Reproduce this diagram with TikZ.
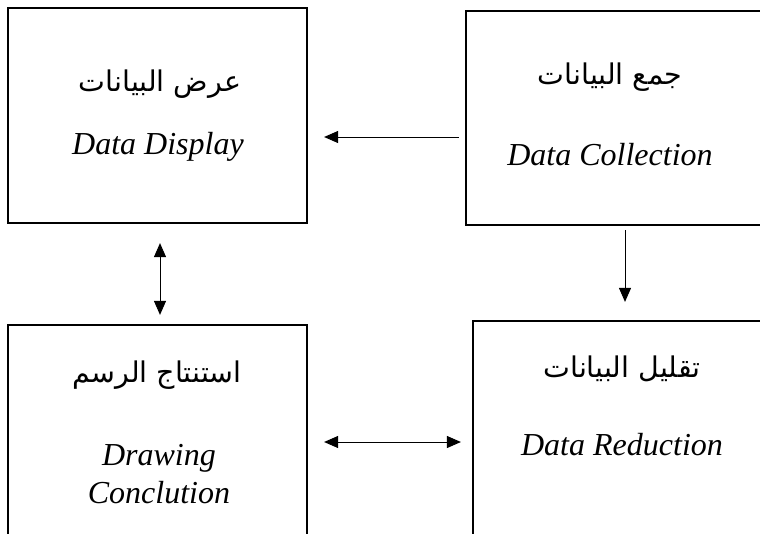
\documentclass[tikz,border=0pt]{standalone}
\usepackage{fontspec}
\setmainfont{Liberation Serif}
\newfontfamily\arabicfont[Script=Arabic]{DejaVu Sans}
\TeXXeTstate=1
\usetikzlibrary{arrows.meta}
\begin{document}
\begin{tikzpicture}[x=1pt,y=-1pt,
  box/.style={draw,line width=2.2pt,minimum width=299pt,inner sep=0pt},
  ar/.style={anchor=base,font=\arabicfont\fontsize{28.5}{32}\selectfont},
  en/.style={anchor=base,font=\itshape\fontsize{32}{36}\selectfont},
  arr/.style={line width=1pt,-{Triangle[length=14pt,width=12pt]}},
  darr/.style={line width=1pt,{Triangle[length=14pt,width=12pt]}-{Triangle[length=14pt,width=12pt]}}]
\useasboundingbox (0,0) rectangle (760,533);
\clip (0,0) rectangle (760,533);
\fill[white] (0,0) rectangle (760,533);
% boxes
\node[box,minimum height=215pt] (tl) at (157.5,115.5) {};
\node[box,minimum height=214pt] (tr) at (615.5,118) {};
\node[box,minimum height=215pt] (bl) at (157.5,432.5) {};
\node[box,minimum height=219pt] (br) at (622.5,430.5) {};
% texts
\node[ar] (tla) at (160,91) {\beginR عرض البيانات\endR};
\node[en] (tle) at (158,154) {Data Display};
\node[ar] (tra) at (610,84) {\beginR جمع البيانات\endR};
\node[en] (tre) at (610,165) {Data Collection};
\node[ar] (bla) at (157,382) {\beginR استنتاج الرسم\endR};
\node[en] (ble1) at (159,465) {Drawing};
\node[en] (ble2) at (159,503) {Conclution};
\node[ar] (bra) at (622,377) {\beginR تقليل البيانات\endR};
\node[en] (bre) at (622,455) {Data Reduction};
% connectors
\draw[arr,shorten <=6pt,shorten >=16pt] (tr.west|-0,137) -- (tl.east|-0,137);
\draw[arr,shorten <=4pt,shorten >=18pt] (tr.south-|625,0) -- (br.north-|625,0);
\draw[darr,shorten <=19pt,shorten >=9pt] (tl.south-|160,0) -- (bl.north-|160,0);
\draw[darr,shorten <=16pt,shorten >=11pt] (bl.east|-0,442) -- (br.west|-0,442);
\end{tikzpicture}
\end{document}
